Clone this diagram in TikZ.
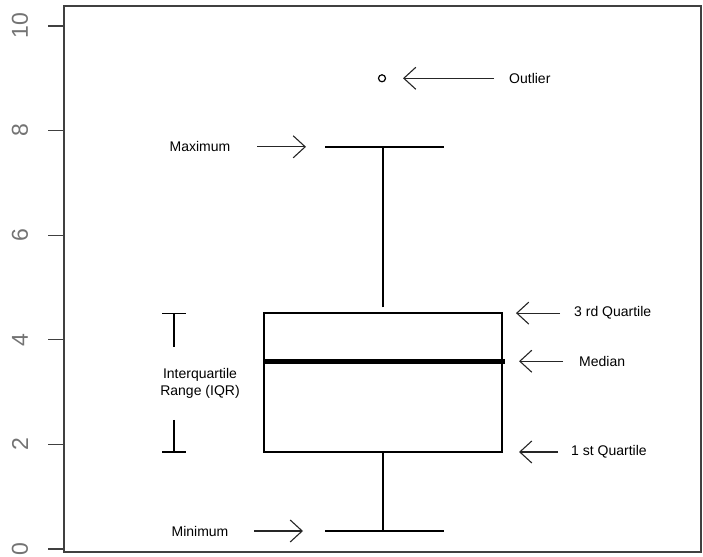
\documentclass[tikz,border=0pt]{standalone}
\usepackage{fontspec}
\setmainfont{Liberation Sans}
\usetikzlibrary{arrows.meta}

\begin{document}
\begin{tikzpicture}[x=1pt, y=52.3pt, >={Straight Barb[length=12pt,width=22pt]},
  lbl/.style={font=\fontsize{14}{17}\selectfont, inner sep=1pt},
  ticklbl/.style={font=\fontsize{23}{25}\selectfont, text=black!55, rotate=90},
  pointer/.style={->, line width=1.1pt, black!85}]

\useasboundingbox (0,-0.153) rectangle (703,10.497);

%------------------ AXIS AND FRAME ------------------%
\draw[line width=1.4pt, black!75] (64,-0.06) rectangle (701,10.38);
\foreach \v in {0,2,...,10} {
  \draw[line width=1.2pt, black!75] (48,\v) -- (64,\v);
  \node[ticklbl] (tick\v) at (20,\v) {\v};
}

%------------------ BOX ------------------%
\draw[line width=1.3pt] (264,1.855) rectangle (502,4.51);
\draw[line width=5pt] (264,3.59) -- (505,3.59);

\draw[line width=2.6pt] (383,4.62) -- (383,7.69);
\draw[line width=1.6pt] (325,7.69) -- (444,7.69);
\draw[line width=2.6pt] (383,1.855) -- (383,0.344);
\draw[line width=1.6pt] (325,0.344) -- (444,0.344);

\coordinate (Out) at (382,9.0);
\draw[line width=1.2pt] (Out) circle(3.5pt);

%------------------ LABELS ------------------%
\node[lbl, anchor=west] (outlier) at (508,9.0) {Outlier};
\coordinate (outTail) at (494,9.0);
\coordinate (outTip) at (403,9.0);
\draw[pointer] (outTail) -- (outTip);

\node[lbl] (maxi) at (200,7.69) {Maximum};
\coordinate (maxTail) at (257,7.69);
\coordinate (maxTip) at (306,7.69);
\draw[pointer] (maxTail) -- (maxTip);

\node[lbl] (mini) at (200,0.344) {Minimum};
\coordinate (minTail) at (254,0.344);
\coordinate (minTip) at (303,0.344);
\draw[pointer] (minTail) -- (minTip);

\node[lbl, anchor=west] (third) at (573,4.51) {3 rd Quartile};
\coordinate (thirdTail) at (560,4.51);
\coordinate (thirdTip) at (516,4.51);
\draw[pointer] (thirdTail) -- (thirdTip);

\node[lbl, anchor=west] (median) at (578,3.59) {Median};
\coordinate (medTail) at (563,3.59);
\coordinate (medTip) at (519,3.59);
\draw[pointer] (medTail) -- (medTip);

\node[lbl, anchor=west] (first) at (570,1.855) {1 st Quartile};
\coordinate (firstTail) at (558,1.855);
\coordinate (firstTip) at (519,1.855);
\draw[pointer] (firstTail) -- (firstTip);

%------------------ IQR BRACKET ------------------%
\node[lbl, align=center] (iqr) at (200,3.17) {Interquartile\\Range (IQR)};
\draw[line width=1.1pt] (162,4.51) -- (186,4.51);
\draw[line width=1.1pt] (174,4.51) -- (174,3.86);
\draw[line width=1.1pt] (174,2.47) -- (174,1.855);
\draw[line width=1.1pt] (162,1.855) -- (186,1.855);

\end{tikzpicture}
\end{document}
